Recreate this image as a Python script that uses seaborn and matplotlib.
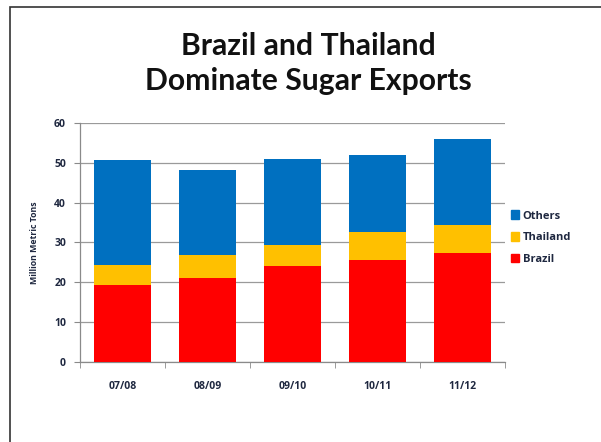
"""
Sugar exports stacked bar chart
"""

import matplotlib.pyplot as plt
import matplotlib.patches as mpatches
import seaborn as sns
import pandas as pd

seasons = ["07/08", "08/09", "09/10", "10/11", "11/12"]
brazil = [19.3, 21.2, 24.2, 25.6, 27.3]
thailand = [5.1, 5.7, 5.2, 7.1, 7.1]
others = [26.4, 21.2, 21.6, 19.3, 21.6]

df = pd.DataFrame({"Season": seasons, "Brazil": brazil, "Thailand": thailand, "Others": others})

sns.set_style("white")
plt.rcParams["font.family"] = ["Open Sans", "DejaVu Sans"]

col_brazil = "#ff0000"
col_thai = "#ffc000"
col_others = "#0070c0"
txt_col = "#1f2840"

fig = plt.figure(figsize=(6.01, 4.42), dpi=100)
ax = fig.add_axes([0.133, 0.181, 0.707, 0.541])

kw = dict(width=0.67, saturation=1, ax=ax, zorder=3, linewidth=0)
sns.barplot(data=df, x="Season", y="Brazil", color=col_brazil, **kw)
sns.barplot(data=df, x="Season", y="Thailand", bottom=df["Brazil"], color=col_thai, **kw)
sns.barplot(data=df, x="Season", y="Others", bottom=df["Brazil"] + df["Thailand"], color=col_others, **kw)

ax.set_ylim(0, 60)
ax.set_xlim(-0.5, 4.5)
ax.set_yticks(range(0, 61, 10))
ax.yaxis.grid(True, color="#9a9a9a", linewidth=0.9, zorder=0)
ax.set_xticks([i - 0.5 for i in range(6)], minor=True)
ax.tick_params(axis="x", which="major", length=0, pad=14)
ax.tick_params(axis="x", which="minor", length=4, color="#8a8a8a", direction="out", bottom=True)
ax.tick_params(axis="y", length=4, color="#8a8a8a", direction="out", left=True, pad=6)
for lab in ax.get_xticklabels() + ax.get_yticklabels():
    lab.set_fontsize(7.5)
    lab.set_fontweight("bold")
    lab.set_color(txt_col)
for side in ["top", "right"]:
    ax.spines[side].set_visible(False)
for side in ["left", "bottom"]:
    ax.spines[side].set_color("#8a8a8a")
    ax.spines[side].set_linewidth(0.9)
ax.set_xlabel("")
ax.set_ylabel("Million Metric Tons", fontsize=6.3, fontweight="bold", color=txt_col, labelpad=11)

handles = [mpatches.Patch(color=col_others, label="Others"),
           mpatches.Patch(color=col_thai, label="Thailand"),
           mpatches.Patch(color=col_brazil, label="Brazil")]
leg = ax.legend(handles=handles, loc="center left", bbox_to_anchor=(0.99, 0.52), frameon=False,
                handlelength=0.8, handleheight=0.8, handletextpad=0.3, labelspacing=0.95,
                prop={"size": 8, "weight": "bold"})
for t in leg.get_texts():
    t.set_color(txt_col)

title_font = ["Lato", "DejaVu Sans"]
fig.text(0.513, 0.897, "Brazil and Thailand", ha="center", va="center", fontsize=21.7,
         fontweight="bold", color="#111111", family=title_font)
fig.text(0.513, 0.817, "Dominate Sugar Exports", ha="center", va="center", fontsize=21.7,
         fontweight="bold", color="#111111", family=title_font)

fig.patches.append(mpatches.Rectangle((10 / 601, -0.05), 1.0, 1 - 7 / 442 + 0.05, transform=fig.transFigure,
                                      fill=False, edgecolor="#333333", linewidth=1.2))

plt.savefig("out.png", dpi=100)
